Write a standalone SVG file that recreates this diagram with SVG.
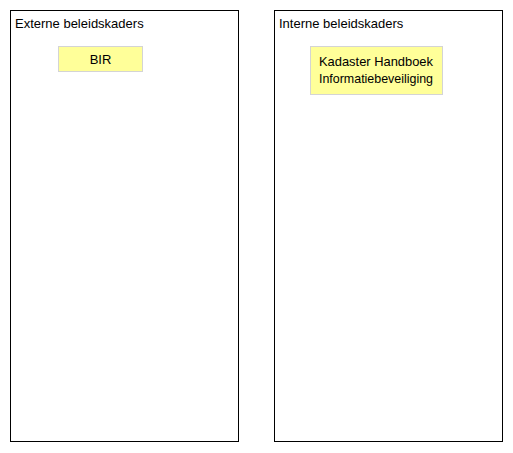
<svg xmlns="http://www.w3.org/2000/svg" width="513" height="453" viewBox="0 0 513 453">
<style>
.grp{fill:#ffffff;stroke:#000000;stroke-width:1}
.lbl{font-family:"Liberation Sans",Arial,sans-serif;font-size:13px;fill:#000000}
.note{fill:#ffff99;stroke:#d4d4d4;stroke-width:1}
</style>
<rect width="513" height="453" fill="#ffffff"/>
<g id="externe">
<rect class="grp" x="10.5" y="10.5" width="228" height="431"/>
<text class="lbl" x="15" y="28">Externe beleidskaders</text>
</g>
<g id="interne">
<rect class="grp" x="274.5" y="10.5" width="228" height="431"/>
<text class="lbl" x="279" y="28">Interne beleidskaders</text>
</g>
<g id="bir">
<rect class="note" x="58.5" y="46.5" width="84" height="25"/>
<text class="lbl" x="100.5" y="63.5" text-anchor="middle">BIR</text>
</g>
<g id="kadaster">
<rect class="note" x="310.5" y="46.5" width="132" height="48"/>
<text class="lbl" x="319" y="65.5" textLength="114" lengthAdjust="spacingAndGlyphs">Kadaster Handboek</text>
<text class="lbl" x="319" y="83" textLength="114" lengthAdjust="spacingAndGlyphs">Informatiebeveiliging</text>
</g>
<g id="connectors"></g>
</svg>
